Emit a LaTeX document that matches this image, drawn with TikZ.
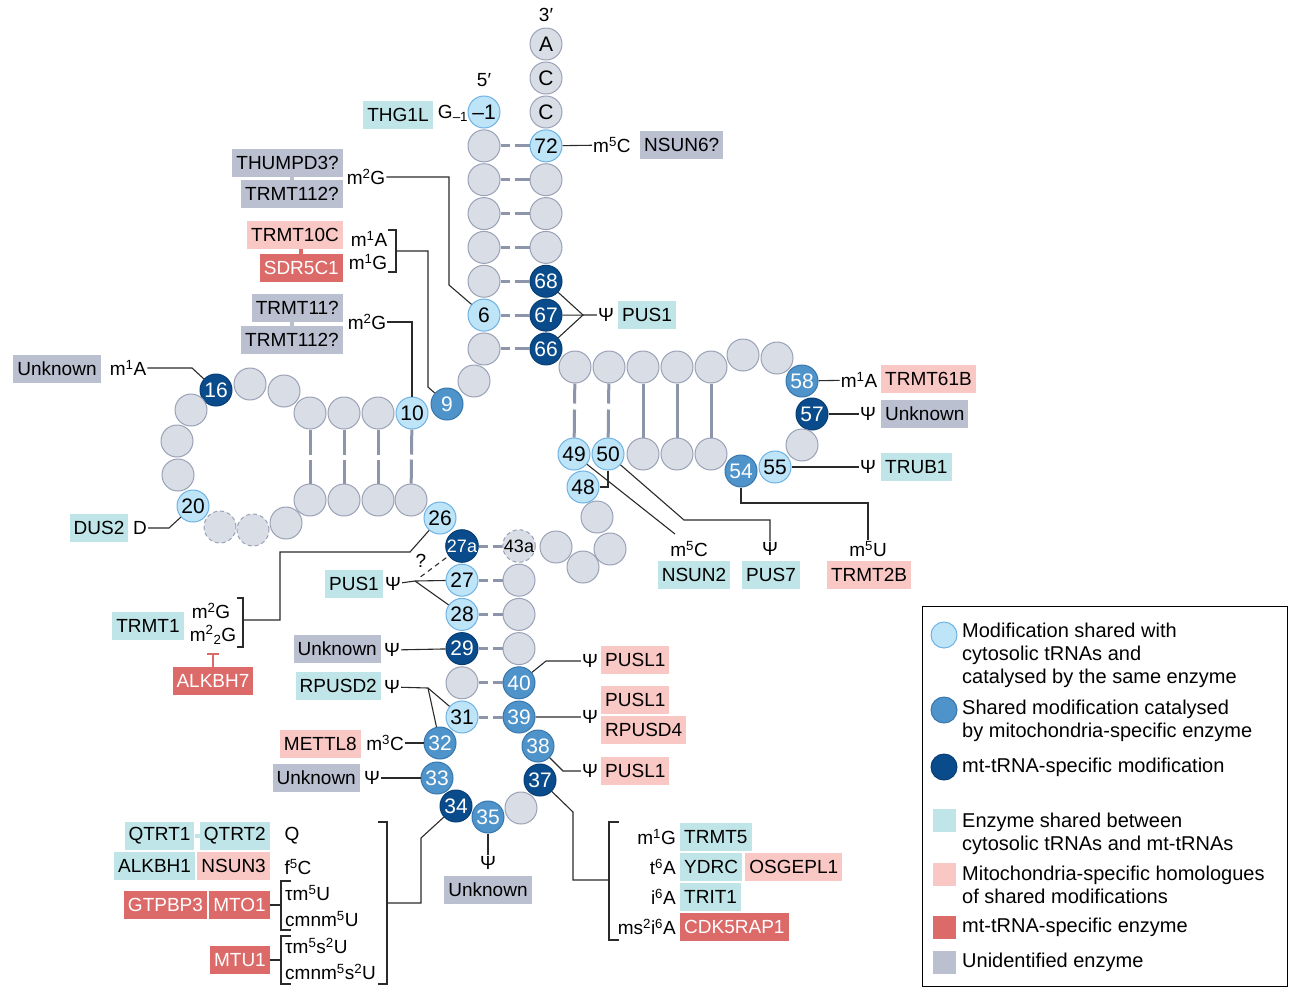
\documentclass[tikz,border=0pt]{standalone}
\usepackage{fontspec}
\setmainfont{Liberation Sans}
\usetikzlibrary{positioning, arrows.meta}

\definecolor{ntfill}{HTML}{D9DDE6}
\definecolor{ntdraw}{HTML}{9AA1B5}
\definecolor{lightfill}{HTML}{BEE4F8}
\definecolor{lightdraw}{HTML}{6DB2E2}
\definecolor{midfill}{HTML}{4E93C9}
\definecolor{middraw}{HTML}{3776AC}
\definecolor{darkfill}{HTML}{0A4C8B}
\definecolor{darkdraw}{HTML}{073D73}
\definecolor{tealbox}{HTML}{BFE5E8}
\definecolor{pinkbox}{HTML}{F9C8C4}
\definecolor{redbox}{HTML}{DB6A68}
\definecolor{greybox}{HTML}{BBC0D1}
\definecolor{pairgrey}{HTML}{8D95AB}
\definecolor{linkcol}{HTML}{2A2A2A}

\newcommand{\nsmall}[1]{{\fontsize{18}{18}\selectfont #1}}

\begin{document}
\begin{tikzpicture}[
		x=1pt, y=-1pt,
		font=\fontsize{19}{22}\selectfont,
		every nt/.style={circle, draw=ntdraw, fill=ntfill, line width=1pt, minimum size=32pt, inner sep=0pt, font=\fontsize{21}{21}\selectfont},
		nt light/.style={draw=lightdraw, fill=lightfill},
		nt mid/.style={draw=middraw, fill=midfill, text=white},
		nt dark/.style={draw=darkdraw, fill=darkfill, text=white},
		nt absent/.style={dash pattern=on 4pt off 3pt},
		enzyme/.style={inner xsep=4pt, inner ysep=0pt, minimum height=28pt},
		enz teal/.style={enzyme, fill=tealbox},
		enz pink/.style={enzyme, fill=pinkbox},
		enz red/.style={enzyme, fill=redbox, text=white},
		enz grey/.style={enzyme, fill=greybox},
		mod/.style={inner sep=1pt},
		link/.style={draw=linkcol, line width=1.1pt},
		pair/.style={draw=pairgrey, line width=3pt, dash pattern=on 9pt off 5pt on 20pt},
		vpair/.style={draw=pairgrey, line width=3pt, dash pattern=on 25pt off 5pt on 30pt},
		tpair/.style={draw=pairgrey, line width=3pt, dash pattern=on 20pt off 6pt on 40pt},
		stub/.style={line width=4pt},
		legtxt/.style={align=left, inner sep=0pt, font=\fontsize{20}{23}\selectfont}
	]

	\useasboundingbox (0,0) rectangle (1297,997);

	\node (lab3) at (546,15) {3′};
	\node (lab5) at (484,80) {5′};
	\foreach \y/\lab [count=\i] in {44/A, 78/C, 112/C}
		\node [every nt/.try] (cca-\i) at (546, \y) {\lab};
	\node [every nt/.try, nt light/.try] (g-1) at (484, 112) {–1};

	\foreach \s/\lab [count=\i] in {gray/{}, gray/{}, gray/{}, gray/{}, gray/{}, light/6, gray/{}}
		\node [every nt/.try, nt \s/.try] (accl-\i) at (484, 112+33.85*\i) {\lab};
	\foreach \s/\lab [count=\i] in {light/72, gray/{}, gray/{}, gray/{}, dark/68, dark/67, dark/66}
		\node [every nt/.try, nt \s/.try] (accr-\i) at (546, 112+33.85*\i) {\lab};
	\foreach \i in {1, ..., 7}
		\draw [pair] (accl-\i) -- (accr-\i);

	\foreach \x/\y/\s/\lab [count=\i] in {474/381/gray/{}, 447/404/mid/9, 412/413/light/10, 378/413/gray/{}, 344/413/gray/{}, 310/413/gray/{}, 284/391/gray/{}, 250/384/gray/{}, 216/390/dark/16, 191/410/gray/{}, 177/441/gray/{}, 178/475/gray/{}, 193/506/light/20, 220/527/absent/{}, 253/530/absent/{}, 286/523/gray/{}, 310/500/gray/{}, 344/500/gray/{}, 378/500/gray/{}, 411/500/gray/{}, 440/518/light/26}
		\node [every nt/.try, nt \s/.try] (d-\i) at (\x, \y) {\lab};
	\foreach \a/\b in {3/20, 4/19, 5/18, 6/17}
		\draw [vpair] (d-\a) -- (d-\b);

	\foreach \s/\lab [count=\i] in {dark/\nsmall{27a}, light/27, light/28, dark/29, gray/{}, light/31}
		\node [every nt/.try, nt \s/.try] (acl-\i) at (462, 511.8+34.2*\i) {\lab};
	\foreach \s/\lab [count=\i] in {absent/\nsmall{43a}, gray/{}, gray/{}, gray/{}, mid/40, mid/39}
		\node [every nt/.try, nt \s/.try] (acr-\i) at (519, 511.8+34.2*\i) {\lab};
	\foreach \i in {1, ..., 6}
		\draw [pair] (acl-\i) -- (acr-\i);
	\foreach \x/\y/\s/\lab [count=\i] in {440/743/mid/32, 437/778/mid/33, 456/806/dark/34, 488/817/mid/35, 521/808/gray/{}, 540/780/dark/37, 538/746/mid/38}
		\node [every nt/.try, nt \s/.try] (ac-\i) at (\x, \y) {\lab};

	\foreach \x/\y/\s/\lab [count=\i] in {556/547/gray/{}, 583/567/gray/{}, 610/549/gray/{}, 597/517/gray/{}, 583/487/light/48}
		\node [every nt/.try, nt \s/.try] (var-\i) at (\x, \y) {\lab};

	\foreach \x [count=\i] in {575, 609, 643, 677, 711}
		\node [every nt/.try] (tt-\i) at (\x, 367) {};
	\foreach \x/\s/\lab [count=\i] in {574/light/49, 608/light/50, 643/gray/{}, 677/gray/{}, 711/gray/{}}
		\node [every nt/.try, nt \s/.try] (tb-\i) at (\x, 454) {\lab};
	\foreach \x/\y/\s/\lab [count=\i] in {743/355/gray/{}, 777/358/gray/{}, 802/381/mid/58, 812/414/dark/57, 802/445/gray/{}, 775/467/light/55, 741/471/mid/54}
		\node [every nt/.try, nt \s/.try] (tl-\i) at (\x, \y) {\lab};
	\foreach \i in {1, 2}
		\draw [tpair] (tt-\i) -- (tb-\i);
	\foreach \i in {3, 4, 5}
		\draw [draw=pairgrey, line width=3pt] (tt-\i) -- (tb-\i);

	\node [enz teal] (thg1l) at (398,115) {THG1L};
	\node [mod] (gm1) at (453,113) {G\textsubscript{–1}};
	\node [mod, anchor=west] (m5c72) at (592,145) {m\textsuperscript{5}C};
	\node [enz grey, anchor=west] (nsun6) at (640,145) {NSUN6?};
	\draw [link] (accr-1) -- (m5c72);

	\coordinate (j67) at (583,315);
	\node [mod] (psi67) at (606,315) {Ψ};
	\node [enz teal, anchor=west] (pus1a) at (618,315) {PUS1};
	\draw [link] (accr-5) -- (j67) -- (accr-7);
	\draw [link] (accr-6) -- (psi67);

	\node [enz grey, anchor=east] (thumpd3) at (343,163) {THUMPD3?};
	\node [enz grey, anchor=east] (trmt112a) at (343,194) {TRMT112?};
	\draw [stub, greybox] (thumpd3.south -| trmt112a.north) -- (trmt112a.north);
	\node [mod] (m2ga) at (366,177) {m\textsuperscript{2}G};
	\coordinate (k6) at (449,285);
	\draw [link] (m2ga) -| (k6) -- (accl-6);

	\node [enz pink, anchor=east] (trmt10c) at (343,235) {TRMT10C};
	\node [enz red, anchor=east] (sdr5c1) at (343,268) {SDR5C1};
	\draw [stub, redbox] (trmt10c.south -| sdr5c1.north) -- (sdr5c1.north);
	\node [mod] (m1a9) at (369,239) {m\textsuperscript{1}A};
	\node [mod] (m1g9) at (368,262) {m\textsuperscript{1}G};
	\draw [link] (388,230) -| (396,272) -- (388,272);
	\coordinate (b9) at (396,251);
	\coordinate (k9) at (428,387);
	\draw [link] (b9) -| (k9) -- (d-2);

	\node [enz grey, anchor=east] (trmt11) at (343,308) {TRMT11?};
	\node [enz grey, anchor=east] (trmt112b) at (343,340) {TRMT112?};
	\draw [stub, greybox] (trmt11.south -| trmt112b.north) -- (trmt112b.north);
	\node [mod] (m2gb) at (367,322) {m\textsuperscript{2}G};
	\draw [link] (m2gb) -| (d-3);

	\node [enz grey] (unk16) at (57,369) {Unknown};
	\node [mod] (m1a16) at (128,368) {m\textsuperscript{1}A};
	\coordinate (k16) at (192,368);
	\draw [link] (m1a16) -- (k16) -- (d-9);

	\node [enz teal] (dus2) at (99,528) {DUS2};
	\node [mod] (dmod) at (140,528) {D};
	\coordinate (k20) at (169,528);
	\draw [link] (dmod) -- (k20) -- (d-13);

	\node [enz teal] (trmt1) at (148,626) {TRMT1};
	\node [mod] (m2gc) at (211,611) {m\textsuperscript{2}G};
	\node [mod] (m22g) at (213,635) {m\textsuperscript{2}\textsubscript{2}G};
	\draw [link] (237,598) -| (243,647) -- (237,647);
	\coordinate (b26) at (243,620);
	\coordinate (k26) at (410,552);
	\draw [link] (b26) -| (280,552) -- (k26) -- (d-21);
	\node [enz red] (alkbh7) at (213,681) {ALKBH7};
	\draw [draw=redbox, line width=2pt, -{Bar[width=12pt]}] (alkbh7.north) -- ++(0,-14);

	\node [enz teal, anchor=east] (pus1b) at (383,584) {PUS1};
	\node [mod] (psi27) at (393,584) {Ψ};
	\coordinate (j27) at (415,581);
	\draw [link] (psi27) -- (j27) -- (acl-2);
	\draw [link] (j27) -- (acl-3);
	\draw [link, dash pattern=on 5pt off 4pt, shorten <=7pt] (j27) -- (acl-1);
	\node [mod] (q27a) at (421,561) {?};

	\node [enz grey, anchor=east] (unk29) at (381,649) {Unknown};
	\node [mod] (psi29) at (392,650) {Ψ};
	\draw [link] (psi29) -- (acl-4);

	\node [enz teal, anchor=east] (rpusd2) at (381,686) {RPUSD2};
	\node [mod] (psi31) at (392,687) {Ψ};
	\coordinate (j31) at (428,688);
	\draw [link] (psi31) -- (j31) -- (acl-6);
	\draw [link] (j31) -- (ac-1);

	\node [enz pink, anchor=east] (mettl8) at (361,744) {METTL8};
	\node [mod] (m3c) at (385,743) {m\textsuperscript{3}C};
	\draw [link] (m3c) -- (ac-1);

	\node [enz grey, anchor=east] (unk33) at (360,778) {Unknown};
	\node [mod] (psi33) at (372,778) {Ψ};
	\draw [link] (psi33) -- (ac-2);

	\node [mod] (psi40) at (590,661) {Ψ};
	\node [enz pink, anchor=west] (pusl1a) at (601,660) {PUSL1};
	\coordinate (k40) at (546,661);
	\draw [link] (acr-5) -- (k40) -- (psi40);
	\node [mod] (psi39) at (590,717) {Ψ};
	\node [enz pink, anchor=west] (pusl1b) at (601,700) {PUSL1};
	\node [enz pink, anchor=west] (rpusd4) at (601,730) {RPUSD4};
	\draw [link] (acr-6) -- (psi39);
	\node [mod] (psi38) at (590,771) {Ψ};
	\node [enz pink, anchor=west] (pusl1c) at (601,771) {PUSL1};
	\coordinate (k38) at (563,771);
	\draw [link] (ac-7) -- (k38) -- (psi38);

	\coordinate (k37) at (573,812);
	\draw [link] (ac-6) -- (k37) |- (609,880);
	\draw [link] (619,822) -| (609,940) -- (619,940);
	\node [mod, anchor=east] (m1g37) at (677,837) {m\textsuperscript{1}G};
	\node [enz teal, anchor=west] (trmt5) at (680,837) {TRMT5};
	\node [mod, anchor=east] (t6a) at (677,867) {t\textsuperscript{6}A};
	\node [enz teal, anchor=west] (ydrc) at (680,867) {YDRC};
	\node [enz pink, right=3pt of ydrc] (osgepl1) {OSGEPL1};
	\node [mod, anchor=east] (i6a) at (677,897) {i\textsuperscript{6}A};
	\node [enz teal, anchor=west] (trit1) at (680,897) {TRIT1};
	\node [mod, anchor=east] (ms2i6a) at (677,927) {ms\textsuperscript{2}i\textsuperscript{6}A};
	\node [enz red, anchor=west] (cdk5rap1) at (680,927) {CDK5RAP1};

	\node [mod] (psi35) at (488,863) {Ψ};
	\node [enz grey] (unk35) at (488,890) {Unknown};
	\draw [link] (ac-4) -- (psi35);

	\coordinate (k34) at (421,838);
	\draw [link] (ac-3) -- (k34) |- (387,903);
	\draw [link] (378,822) -| (387,984) -- (378,984);
	\node [mod] (qmod) at (292,836) {Q};
	\node [mod] (f5c) at (298,867) {f\textsuperscript{5}C};
	\node [enz teal, anchor=east] (qtrt2) at (270,836) {QTRT2};
	\node [enz teal, left=5pt of qtrt2] (qtrt1) {QTRT1};
	\draw [stub, tealbox] (qtrt1) -- (qtrt2);
	\node [enz pink, anchor=east] (nsun3) at (270,866) {NSUN3};
	\node [enz teal, left=2pt of nsun3] (alkbh1) {ALKBH1};
	\node [enz red, anchor=east] (mto1) at (270,905) {MTO1};
	\node [enz red, left=2pt of mto1] (gtpbp3) {GTPBP3};
	\node [mod, anchor=west] (tm5u) at (284,893) {τm\textsuperscript{5}U};
	\node [mod, anchor=west] (cmnm5u) at (284,919) {cmnm\textsuperscript{5}U};
	\draw [link] (291,881) -| (281,930) -- (291,930);
	\draw [link] (mto1) -- (281,905);
	\node [enz red, anchor=east] (mtu1) at (270,960) {MTU1};
	\node [mod, anchor=west] (tm5s2u) at (284,946) {τm\textsuperscript{5}s\textsuperscript{2}U};
	\node [mod, anchor=west] (cmnm5s2u) at (284,972) {cmnm\textsuperscript{5}s\textsuperscript{2}U};
	\draw [link] (291,936) -| (281,984) -- (291,984);
	\draw [link] (mtu1) -- (281,960);

	\node [mod] (m1a58) at (859,380) {m\textsuperscript{1}A};
	\node [enz pink, anchor=west] (trmt61b) at (881,379) {TRMT61B};
	\draw [link] (tl-3) -- (m1a58);
	\node [mod] (psi57) at (868,414) {Ψ};
	\node [enz grey, anchor=west] (unk57) at (881,414) {Unknown};
	\draw [link] (tl-4) -- (psi57);
	\node [mod] (psi55) at (868,467) {Ψ};
	\node [enz teal, anchor=west] (trub1) at (881,467) {TRUB1};
	\draw [link] (tl-6) -- (psi55);
	\node [mod] (m5u) at (868,549) {m\textsuperscript{5}U};
	\node [enz pink] (trmt2b) at (869,575) {TRMT2B};
	\draw [link] (tl-7) |- (868,503) -- (m5u);
	\node [mod] (psi50) at (770,549) {Ψ};
	\node [enz teal] (pus7) at (771,575) {PUS7};
	\coordinate (k50) at (684,520);
	\draw [link] (tb-2) -- (k50) -| (psi50);
	\node [mod] (m5c49) at (689,549) {m\textsuperscript{5}C};
	\node [enz teal] (nsun2) at (694,575) {NSUN2};
	\coordinate (k49) at (675,534);
	\draw [link] (tb-1) -- (k49);
	\draw [link] (tb-2) |- (var-5);

	\draw [line width=1pt] (922,606) rectangle (1287,986);
	\foreach \s/\y [count=\i] in {light/635, mid/710, dark/767}
		\node [every nt/.try, nt \s/.try, minimum size=26pt] (legc-\i) at (944, \y) {};
	\foreach \c/\y [count=\i] in {tealbox/820, pinkbox/874, redbox/927, greybox/962}
		\node [fill=\c, minimum size=23pt, inner sep=0pt] (legs-\i) at (944, \y) {};
	\foreach \y/\txt [count=\i] in {623/{Modification shared with\\cytosolic tRNAs and\\catalysed by the same enzyme}, 700/{Shared modification catalysed\\by mitochondria-specific enzyme}, 758/{mt-tRNA-specific modification}, 813/{Enzyme shared between\\cytosolic tRNAs and mt-tRNAs}, 866/{Mitochondria-specific homologues\\of shared modifications}, 918/{mt-tRNA-specific enzyme}, 953/{Unidentified enzyme}}
		\node [legtxt, anchor=north west] (legt-\i) at (962, \y) {\txt};
\end{tikzpicture}
\end{document}
